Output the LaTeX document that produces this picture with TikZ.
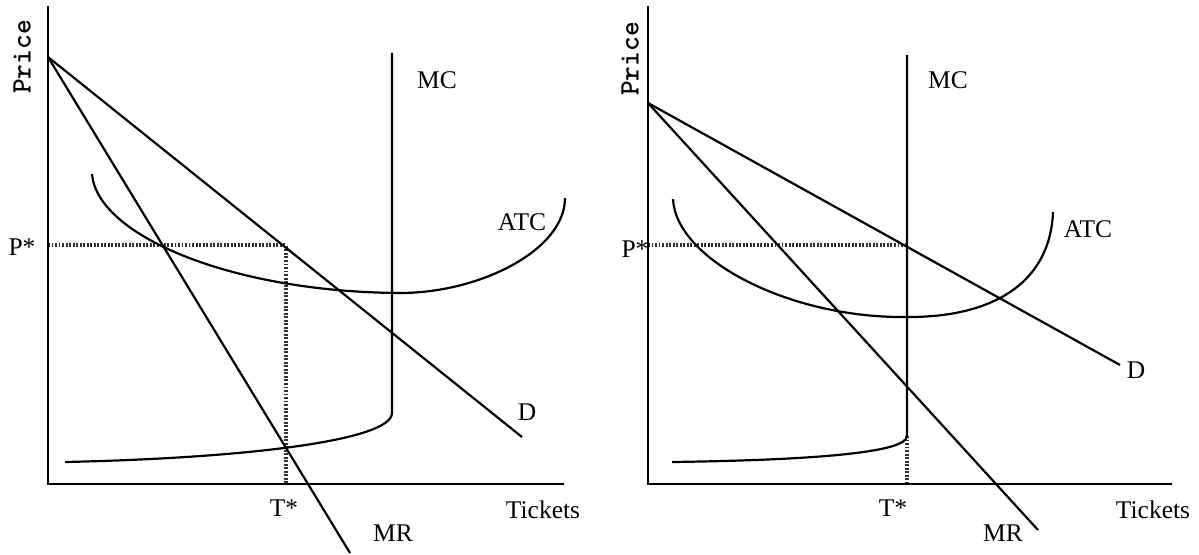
\documentclass[tikz,border=0pt]{standalone}
\usepackage{fontspec}
\setmainfont{Liberation Serif}

\begin{document}
\begin{tikzpicture}[
  x=0.02cm, y=-0.02cm,
  every node/.style={font=\fontsize{14.5}{16}\selectfont, inner sep=0pt},
  ylbl/.style={font=\ttfamily\bfseries\fontsize{16}{18}\selectfont, rotate=90},
  axis/.style={line width=1.3pt, black},
  curve/.style={line width=1.25pt, black},
  guide/.style={line width=2pt, black!80, dash pattern=on 1.1pt off 0.9pt},
]
\useasboundingbox (0,0) rectangle (1199,554);

% ----------------------------------------------------------- left panel --
\coordinate (lYtop)    at (48,6);
\coordinate (lO)       at (48,484);
\coordinate (lXend)    at (564,484);
\coordinate (lA)       at (48,57);
\coordinate (lDend)    at (522,437);
\coordinate (lMRend)   at (350,553);
\coordinate (lMCtop)   at (392,53);
\coordinate (lMCknee)  at (392,413);
\coordinate (lMCstart) at (65,462);
\coordinate (lATCa)    at (92,174);
\coordinate (lATCmin)  at (400,293);
\coordinate (lATCb)    at (565,198);
\coordinate (lP)       at (48,245);
\coordinate (lQ)       at (286,245);
\coordinate (lT)       at (286,484);

\draw[guide] (lP) -- (lQ) -- (lT);
\draw[axis] (lYtop) -- (lO) -- (lXend);
\draw[curve] (lA) -- (lDend);
\draw[curve] (lA) -- (lMRend);
\draw[curve] (lMCtop) -- (lMCknee) .. controls (392,440) and (250,458) .. (lMCstart);
\draw[curve] (lATCa) .. controls (97,235) and (230,292) .. (lATCmin)
                     .. controls (480,293) and (565,250) .. (lATCb);

\node[ylbl] (lPrice) at (22,57) {Price};
\node (lPstar)   at (22,247)  {P*};
\node (lTstar)   at (284,508) {T*};
\node (lTickets) at (543,510) {Tickets};
\node (lMC)      at (437,80)  {MC};
\node (lATC)     at (522,222) {ATC};
\node (lD)       at (527,412) {D};
\node (lMR)      at (393,533) {MR};

% ---------------------------------------------------------- right panel --
\coordinate (rYtop)    at (648,6);
\coordinate (rO)       at (648,484);
\coordinate (rXend)    at (1172,484);
\coordinate (rA)       at (648,103);
\coordinate (rDend)    at (1120,365);
\coordinate (rMRend)   at (1038,530);
\coordinate (rMCtop)   at (907,55);
\coordinate (rMCknee)  at (907,436);
\coordinate (rMCstart) at (672,462);
\coordinate (rATCa)    at (673,199);
\coordinate (rATCmin)  at (905,317);
\coordinate (rATCb)    at (1053,212);
\coordinate (rP)       at (648,245);
\coordinate (rQ)       at (907,245);
\coordinate (rT)       at (907,484);

\draw[guide] (rP) -- (rQ);
\draw[guide] (rMCknee) -- (rT);
\draw[axis] (rYtop) -- (rO) -- (rXend);
\draw[curve] (rA) -- (rDend);
\draw[curve] (rA) -- (rMRend);
\draw[curve] (rMCtop) -- (rMCknee) .. controls (907,452) and (820,460) .. (rMCstart);
\draw[curve] (rATCa) .. controls (676,260) and (790,318) .. (rATCmin)
                     .. controls (990,318) and (1050,285) .. (rATCb);

\node[ylbl] (rPrice) at (630,59) {Price};
\node (rPstar)   at (635,249)  {P*};
\node (rTstar)   at (893,508)  {T*};
\node (rTickets) at (1153,510) {Tickets};
\node (rMC)      at (948,80)   {MC};
\node (rATC)     at (1088,229) {ATC};
\node (rD)       at (1136,370) {D};
\node (rMR)      at (1003,533) {MR};

\end{tikzpicture}
\end{document}
